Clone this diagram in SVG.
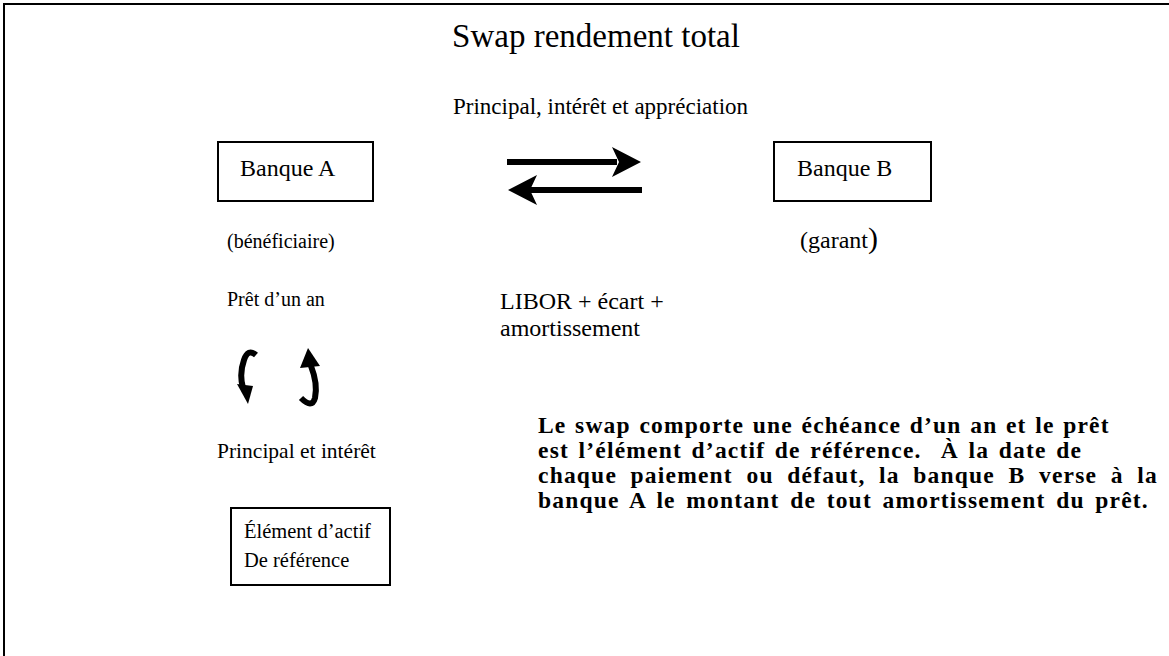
<svg xmlns="http://www.w3.org/2000/svg" width="1169" height="656" viewBox="0 0 1169 656">
<style>
  text { font-family: "Liberation Serif", "Times New Roman", serif; fill: #000; }
  .box { fill: #fff; stroke: #000; stroke-width: 2; }
  .frame { stroke: #000; stroke-width: 2; fill: none; }
  .sm { font-size: 20px; }
  .md { font-size: 24px; }
  .bd { font-size: 23.5px; font-weight: bold; letter-spacing: 1.2px; white-space: pre; }
  .curve { fill: none; stroke: #000; stroke-width: 6; stroke-linecap: butt; }
</style>
<rect width="1169" height="656" fill="#fff"/>
<g id="frame">
  <line class="frame" x1="3" y1="4" x2="1169" y2="4"/>
  <line class="frame" x1="4" y1="3" x2="4" y2="656"/>
</g>
<text x="596" y="47" font-size="33" text-anchor="middle">Swap rendement total</text>
<g id="banqueA">
  <rect class="box" x="218" y="142" width="155" height="59"/>
  <text class="md" x="240" y="176">Banque A</text>
</g>
<g id="banqueB">
  <rect class="box" x="774" y="142" width="157" height="59"/>
  <text class="md" x="797" y="176">Banque B</text>
</g>
<g id="actif">
  <rect class="box" x="231" y="508" width="159" height="77"/>
  <text x="244" y="538" font-size="20.5">Élément d’actif</text>
  <text x="244" y="567" font-size="20.5">De référence</text>
</g>
<g id="connectors">
  <rect x="507" y="159" width="110" height="6"/>
  <polygon points="641,162 612,147 619,162 612,177"/>
  <rect x="528" y="187" width="114" height="6"/>
  <polygon points="508,190 537,175 530,190 537,205"/>
  <path class="curve" d="M256,355 Q248,348 244,360 Q239,374 243,388"/>
  <polygon points="248,404 237,384 253,386"/>
  <path class="curve" d="M311,366 Q318,384 315,398 Q312,409 301,398"/>
  <polygon points="308,348 300,368 320,366"/>
</g>
<g id="labels">
  <text x="453" y="114" font-size="23">Principal, intérêt et appréciation</text>
  <text class="sm" x="227" y="248">(bénéficiaire)</text>
  <text x="800" y="248" font-size="24">(garant<tspan font-size="30">)</tspan></text>
  <text class="sm" x="227" y="306">Prêt d’un an</text>
  <text class="md" x="500" y="309">LIBOR + écart +</text>
  <text class="md" x="500" y="336">amortissement</text>
  <text x="217" y="458" font-size="21.5">Principal et intérêt</text>
</g>
<g id="note">
  <text class="bd" x="538" y="433" word-spacing="1.5">Le swap comporte une échéance d’un an et le prêt</text>
  <text class="bd" x="538" y="458" word-spacing="2.5" xml:space="preserve">est l’élément d’actif de référence.  À la date de</text>
  <text class="bd" x="538" y="483" word-spacing="6.5">chaque paiement ou défaut, la banque B verse à la</text>
  <text class="bd" x="538" y="508" word-spacing="3.5">banque A le montant de tout amortissement du prêt.</text>
</g>
</svg>
